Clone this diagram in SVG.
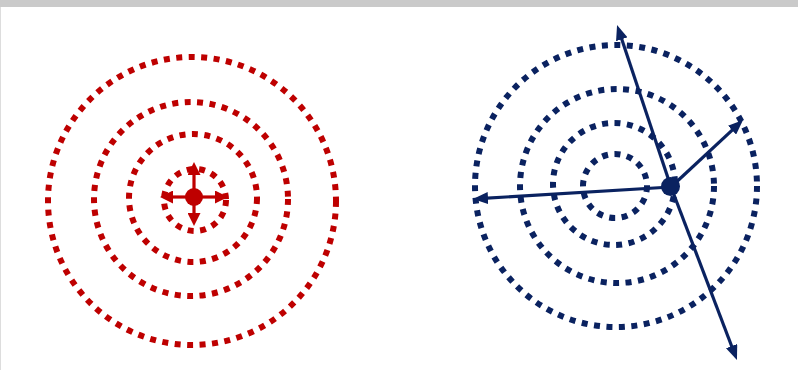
<svg xmlns="http://www.w3.org/2000/svg" width="798" height="370" viewBox="0 0 798 370">
<style>
.ring{fill:none;stroke-width:6;stroke-dasharray:6 6.5}
.red{stroke:#BE0000}
.blue{stroke:#0A2260}
.arr{fill:none;stroke-width:3.2}
</style>
<defs>
<marker id="ahRed" markerUnits="userSpaceOnUse" markerWidth="13" markerHeight="13" refX="3" refY="6.5" orient="auto"><path d="M0,0 L13,6.5 L0,13 z" fill="#BE0000"/></marker>
<marker id="ahBlue" markerUnits="userSpaceOnUse" markerWidth="15" markerHeight="12" refX="5" refY="6" orient="auto"><path d="M0,0 L15,6 L0,12 z" fill="#0A2260"/></marker>
</defs>
<rect width="798" height="370" fill="#fff"/>
<rect width="798" height="7" fill="#CACACA"/>
<rect x="0" y="7" width="1" height="363" fill="#DDDDDD"/>
<g id="left-field">
<circle class="ring red" cx="192" cy="201" r="144"/>
<circle class="ring red" cx="191" cy="199" r="97"/>
<circle class="ring red" cx="193" cy="198" r="64"/>
<circle class="ring red" cx="195" cy="200" r="31"/>
</g>
<g id="right-field">
<circle class="ring blue" cx="616" cy="186" r="141"/>
<circle class="ring blue" cx="617" cy="186" r="97"/>
<circle class="ring blue" cx="614" cy="184" r="61"/>
<circle class="ring blue" cx="615" cy="186" r="32"/>
</g>
<g id="connectors">
<line class="arr red" x1="194" y1="197" x2="194" y2="172" marker-end="url(#ahRed)"/>
<line class="arr red" x1="194" y1="197" x2="194" y2="216" marker-end="url(#ahRed)"/>
<line class="arr red" x1="194" y1="197" x2="170" y2="197" marker-end="url(#ahRed)"/>
<line class="arr red" x1="194" y1="197" x2="218" y2="197" marker-end="url(#ahRed)"/>
<line class="arr blue" x1="671" y1="187" x2="620.2" y2="34.5" marker-end="url(#ahBlue)"/>
<line class="arr blue" x1="671" y1="187" x2="733.4" y2="350.7" marker-end="url(#ahBlue)"/>
<line class="arr blue" x1="671" y1="187" x2="735.7" y2="126.8" marker-end="url(#ahBlue)"/>
<line class="arr blue" x1="671" y1="187" x2="483" y2="198.4" marker-end="url(#ahBlue)"/>
</g>
<g id="left-source"><circle cx="194" cy="197" r="9" fill="#BE0000"/></g>
<g id="right-source"><circle cx="670.5" cy="186.5" r="9.5" fill="#0A2260"/></g>
</svg>
